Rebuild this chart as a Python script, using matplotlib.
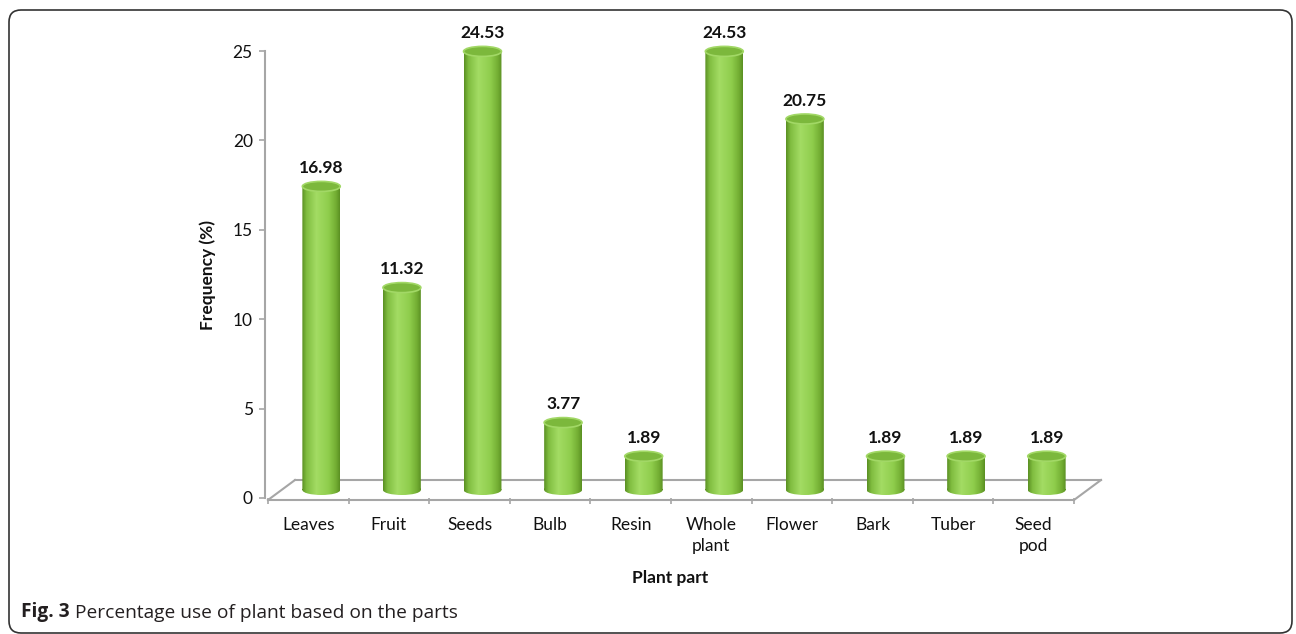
import numpy as np
import matplotlib
matplotlib.use("Agg")
import matplotlib.pyplot as plt
from matplotlib.patches import Ellipse, PathPatch, FancyBboxPatch
from matplotlib.path import Path
from matplotlib.transforms import ScaledTranslation, Affine2D
from matplotlib.colors import LinearSegmentedColormap

# data
parts = ["Leaves", "Fruit", "Seeds", "Bulb", "Resin", "Whole\nplant",
         "Flower", "Bark", "Tuber", "Seed\npod"]
freq = [16.98, 11.32, 24.53, 3.77, 1.89, 24.53, 20.75, 1.89, 1.89, 1.89]
yticks = [0, 5, 10, 15, 20, 25]

chart_font = "Lato"
grey = "#a6a6a6"
fs = 12.5

fig = plt.figure(figsize=(12.96, 6.34), dpi=100)
ax = fig.add_axes([268 / 1296, 136 / 634, 806 / 1296, 447 / 634])
ax.set_xlim(-0.5, len(parts) - 0.5)
ax.set_ylim(0, 25)
ax.patch.set_visible(False)

# cylinders sit half way into the 3D floor, so shift them right/up a little
bar_tr = ax.transData + ScaledTranslation(0.13, 0.08, fig.dpi_scale_trans)
back_tr = ax.transData + ScaledTranslation(0.27, 0.18, fig.dpi_scale_trans)
front_tr = ax.transData + ScaledTranslation(0.0, -0.02, fig.dpi_scale_trans)

# floor of the 3D plot
x0, x1 = -0.5, len(parts) - 0.5
ax.plot([x0, x1], [0, 0], color=grey, lw=1.5, transform=front_tr, clip_on=False, zorder=1)
ax.plot([x0, x1], [0, 0], color=grey, lw=1.5, transform=back_tr, clip_on=False, zorder=1)
inv = ax.transData.inverted()
for xe in (x0, x1):
    a = inv.transform(front_tr.transform((xe, 0)))
    b = inv.transform(back_tr.transform((xe, 0)))
    ax.plot([a[0], b[0]], [a[1], b[1]], color=grey, lw=1.5, clip_on=False, zorder=1)

# cylinder shading
cyl_cmap = LinearSegmentedColormap.from_list(
    "cyl", [(0.0, "#5a8f22"), (0.12, "#80bd40"), (0.38, "#a3dc64"),
            (0.7, "#8fcd4c"), (0.9, "#72ad32"), (1.0, "#5a8f22")])
grad = np.linspace(0, 1, 256).reshape(1, -1)

bw = 0.47   # cylinder width (category units)
eh = 0.56   # ellipse height (value units)
for i, v in enumerate(freq):
    rect = Path.unit_rectangle().transformed(Affine2D().scale(bw, v).translate(i - bw / 2, 0))
    ell = Path.unit_circle().transformed(Affine2D().scale(bw / 2, eh / 2).translate(i, 0))
    body = PathPatch(Path.make_compound_path(rect, ell), transform=bar_tr,
                     facecolor="none", edgecolor="none", clip_on=False)
    ax.add_patch(body)
    im = ax.imshow(grad, cmap=cyl_cmap, aspect="auto", interpolation="bilinear",
                   extent=(i - bw / 2, i + bw / 2, -eh / 2, v), transform=bar_tr,
                   zorder=3)
    im.set_clip_path(body)
    top = Ellipse((i, v), bw, eh, transform=bar_tr, facecolor="#7cb83c",
                  edgecolor="#a2d866", lw=1.2, zorder=4, clip_on=False)
    ax.add_patch(top)
    ax.annotate(f"{v:.2f}", xy=(i, v), xycoords=bar_tr, xytext=(0, 9.5),
                textcoords="offset points", ha="center", va="baseline",
                fontsize=fs, fontweight="bold", family=chart_font,
                color="#111111", zorder=5, annotation_clip=False)

# axes styling
for s in ("top", "right", "bottom"):
    ax.spines[s].set_visible(False)
ax.spines["left"].set_color(grey)
ax.spines["left"].set_linewidth(1.5)
ax.spines["left"].set_position(("outward", 2))
ax.set_yticks(yticks)
ax.set_yticklabels([str(t) for t in yticks], fontsize=fs, family=chart_font)
ax.tick_params(axis="y", colors=grey, labelcolor="#111111", length=4, width=1.2, pad=5)

centers = np.arange(len(parts))
ax.set_xticks(np.arange(len(parts) + 1) - 0.5)
ax.set_xticklabels([])
ax.set_xticks(centers, minor=True)
ax.set_xticklabels(parts, minor=True, fontsize=fs, family=chart_font, va="top",
                   linespacing=1.35)
ax.tick_params(axis="x", which="major", colors=grey, length=4, width=1.2, direction="out")
ax.tick_params(axis="x", which="minor", length=0, pad=14, labelcolor="#111111")

fig.text(208 / 1296, 1 - 275 / 634, "Frequency (%)", rotation=90, ha="center",
         va="center", fontsize=fs, fontweight="bold", family=chart_font, color="#111111")
fig.text(670 / 1296, 1 - 578 / 634, "Plant part", ha="center", va="center",
         fontsize=fs, fontweight="bold", family=chart_font, color="#111111")

# caption
cap = fig.text(21 / 1296, 1 - 617 / 634, "Fig. 3", ha="left", va="baseline",
               fontsize=13.8, fontweight="bold", family="Open Sans", color="#231f20")
ax.annotate(" Percentage use of plant based on the parts", xy=(1, 0), xycoords=cap,
            ha="left", va="bottom", fontsize=13.8, family="Open Sans",
            color="#231f20", annotation_clip=False)

# rounded frame around the figure
frame = FancyBboxPatch((0.09, 0.01), 12.83, 6.23, boxstyle="round,pad=0,rounding_size=0.12",
                       transform=fig.dpi_scale_trans, facecolor="none",
                       edgecolor="#333333", lw=1.2)
fig.add_artist(frame)

fig.savefig("out.png", dpi=100)
